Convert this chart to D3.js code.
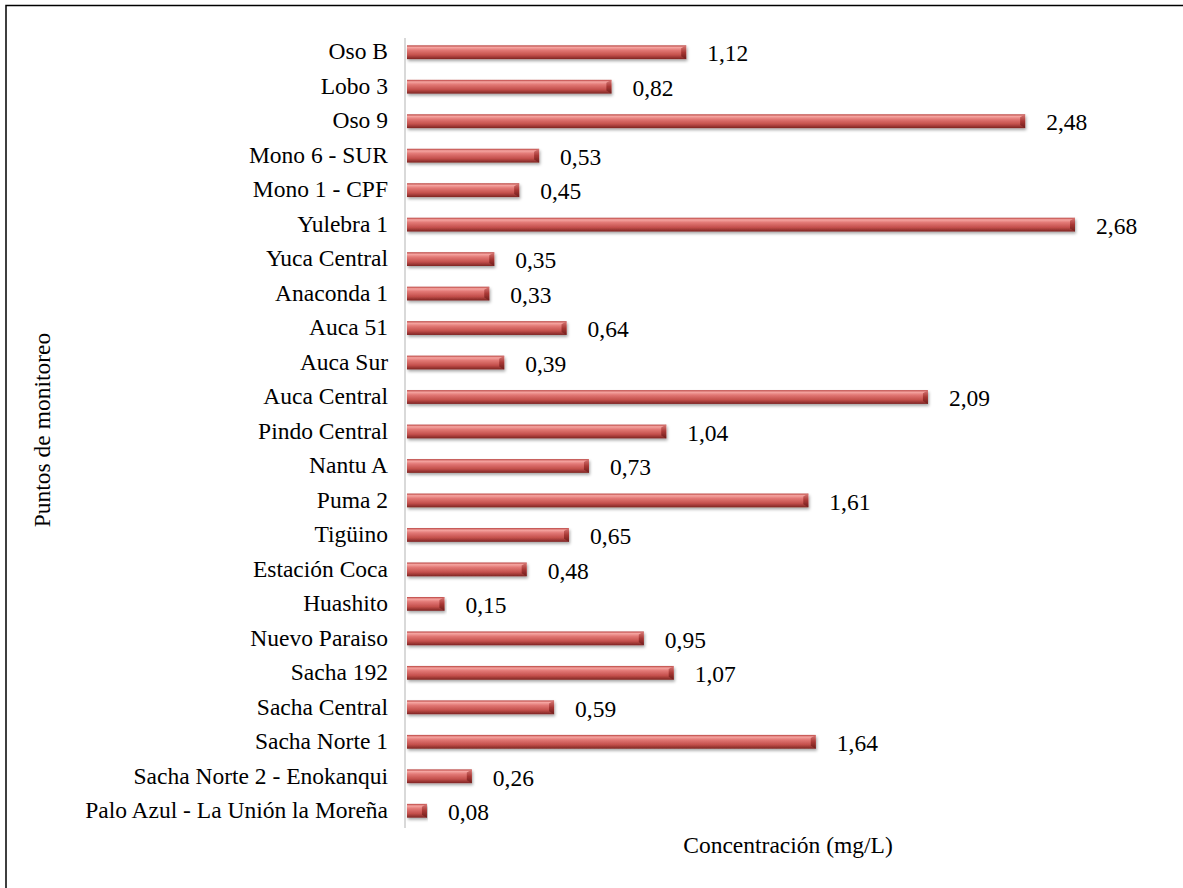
<!DOCTYPE html>
<html>
<head>
<meta charset="utf-8">
<script src="https://cdn.jsdelivr.net/npm/d3@7"></script>
<style>
  body { margin: 0; background: #fff; }
  text { font-family: "Times New Roman", "Liberation Serif", Times, serif; fill: #000; }
</style>
</head>
<body>
<svg width="1183" height="888"></svg>
<script>
// Datos del grafico (de arriba hacia abajo)
const puntos = [
  "Oso B", "Lobo 3", "Oso 9", "Mono 6 - SUR", "Mono 1 - CPF", "Yulebra 1",
  "Yuca Central", "Anaconda 1", "Auca 51", "Auca Sur", "Auca Central",
  "Pindo Central", "Nantu A", "Puma 2 ", "Tigüino", "Estación Coca",
  "Huashito", "Nuevo Paraiso", "Sacha 192", "Sacha Central", "Sacha Norte 1",
  "Sacha Norte 2 - Enokanqui", "Palo Azul - La Unión la Moreña"
];
const concentracion = [
  1.12, 0.82, 2.48, 0.53, 0.45, 2.68, 0.35, 0.33, 0.64, 0.39, 2.09,
  1.04, 0.73, 1.61, 0.65, 0.48, 0.15, 0.95, 1.07, 0.59, 1.64, 0.26, 0.08
];

const svg = d3.select("svg");
const fmt = v => d3.format(".2f")(v).replace(".", ",");
const FS = 23.5;

// Marco (solo arriba e izquierda visibles)
svg.append("path")
  .attr("d", "M6,900 L6,5.5 L1200,5.5")
  .attr("fill", "none")
  .attr("stroke", "#000")
  .attr("stroke-width", 1.5);

const x = d3.scaleLinear().domain([0, 2.68]).range([407, 1075]);
const y = d3.scaleBand().domain(puntos).range([35, 828]).paddingInner(0.6).paddingOuter(0.3);

// Degradado de las barras
const defs = svg.append("defs");
const grad = defs.append("linearGradient")
  .attr("id", "barGrad").attr("x1", 0).attr("y1", 0).attr("x2", 0).attr("y2", 1);
[[0, "#b8403d"], [0.15, "#f5a5a1"], [0.35, "#e27875"], [0.7, "#c4504c"], [1, "#7e2422"]]
  .forEach(([o, c]) => grad.append("stop").attr("offset", o).attr("stop-color", c));
const capGrad = defs.append("linearGradient")
  .attr("id", "capGrad").attr("x1", 0).attr("y1", 0).attr("x2", 0).attr("y2", 1);
[[0, "#d87a77"], [0.5, "#a83734"], [1, "#6e1e1c"]]
  .forEach(([o, c]) => capGrad.append("stop").attr("offset", o).attr("stop-color", c));
const shadow = defs.append("filter").attr("id", "shadow")
  .attr("x", "-5%").attr("y", "-50%").attr("width", "110%").attr("height", "200%");
shadow.append("feDropShadow")
  .attr("dx", 1).attr("dy", 2).attr("stdDeviation", 1.5)
  .attr("flood-color", "#000").attr("flood-opacity", 0.35);

// Eje vertical
svg.append("line")
  .attr("x1", 405).attr("x2", 405)
  .attr("y1", 38).attr("y2", 828)
  .attr("stroke", "#d9d9d9").attr("stroke-width", 2);

const bars = svg.append("g")
  .selectAll("g")
  .data(puntos)
  .join("g")
  .attr("filter", "url(#shadow)");

bars.append("rect")
  .attr("x", x(0))
  .attr("y", d => y(d))
  .attr("width", (d, i) => x(concentracion[i]) - x(0))
  .attr("height", y.bandwidth())
  .attr("fill", "url(#barGrad)");

// Tapa biselada en el extremo
const cap = 5;
bars.append("path")
  .attr("d", (d, i) => {
    const xe = x(concentracion[i]);
    const y0 = y(d), h = y.bandwidth();
    return `M${xe - cap},${y0 + 3} L${xe},${y0} L${xe},${y0 + h} L${xe - cap},${y0 + h - 3} Z`;
  })
  .attr("fill", "url(#capGrad)");

// Etiquetas de valor
svg.append("g")
  .selectAll("text")
  .data(puntos)
  .join("text")
  .attr("x", (d, i) => x(concentracion[i]) + 21)
  .attr("y", d => y(d) + y.bandwidth() / 2 + 1)
  .attr("dy", "0.35em")
  .attr("font-size", FS)
  .text((d, i) => fmt(concentracion[i]));

// Etiquetas de categoria
svg.append("g")
  .selectAll("text")
  .data(puntos)
  .join("text")
  .attr("x", 388)
  .attr("y", d => y(d) + y.bandwidth() / 2 - 1)
  .attr("dy", "0.35em")
  .attr("text-anchor", "end")
  .attr("font-size", FS)
  .text(d => d);

// Titulos de ejes
svg.append("text")
  .attr("transform", "translate(50,430) rotate(-90)")
  .attr("text-anchor", "middle")
  .attr("font-size", FS)
  .text("Puntos de monitoreo");

svg.append("text")
  .attr("x", 788)
  .attr("y", 853)
  .attr("text-anchor", "middle")
  .attr("font-size", FS)
  .text("Concentración (mg/L)");
</script>
</body>
</html>
